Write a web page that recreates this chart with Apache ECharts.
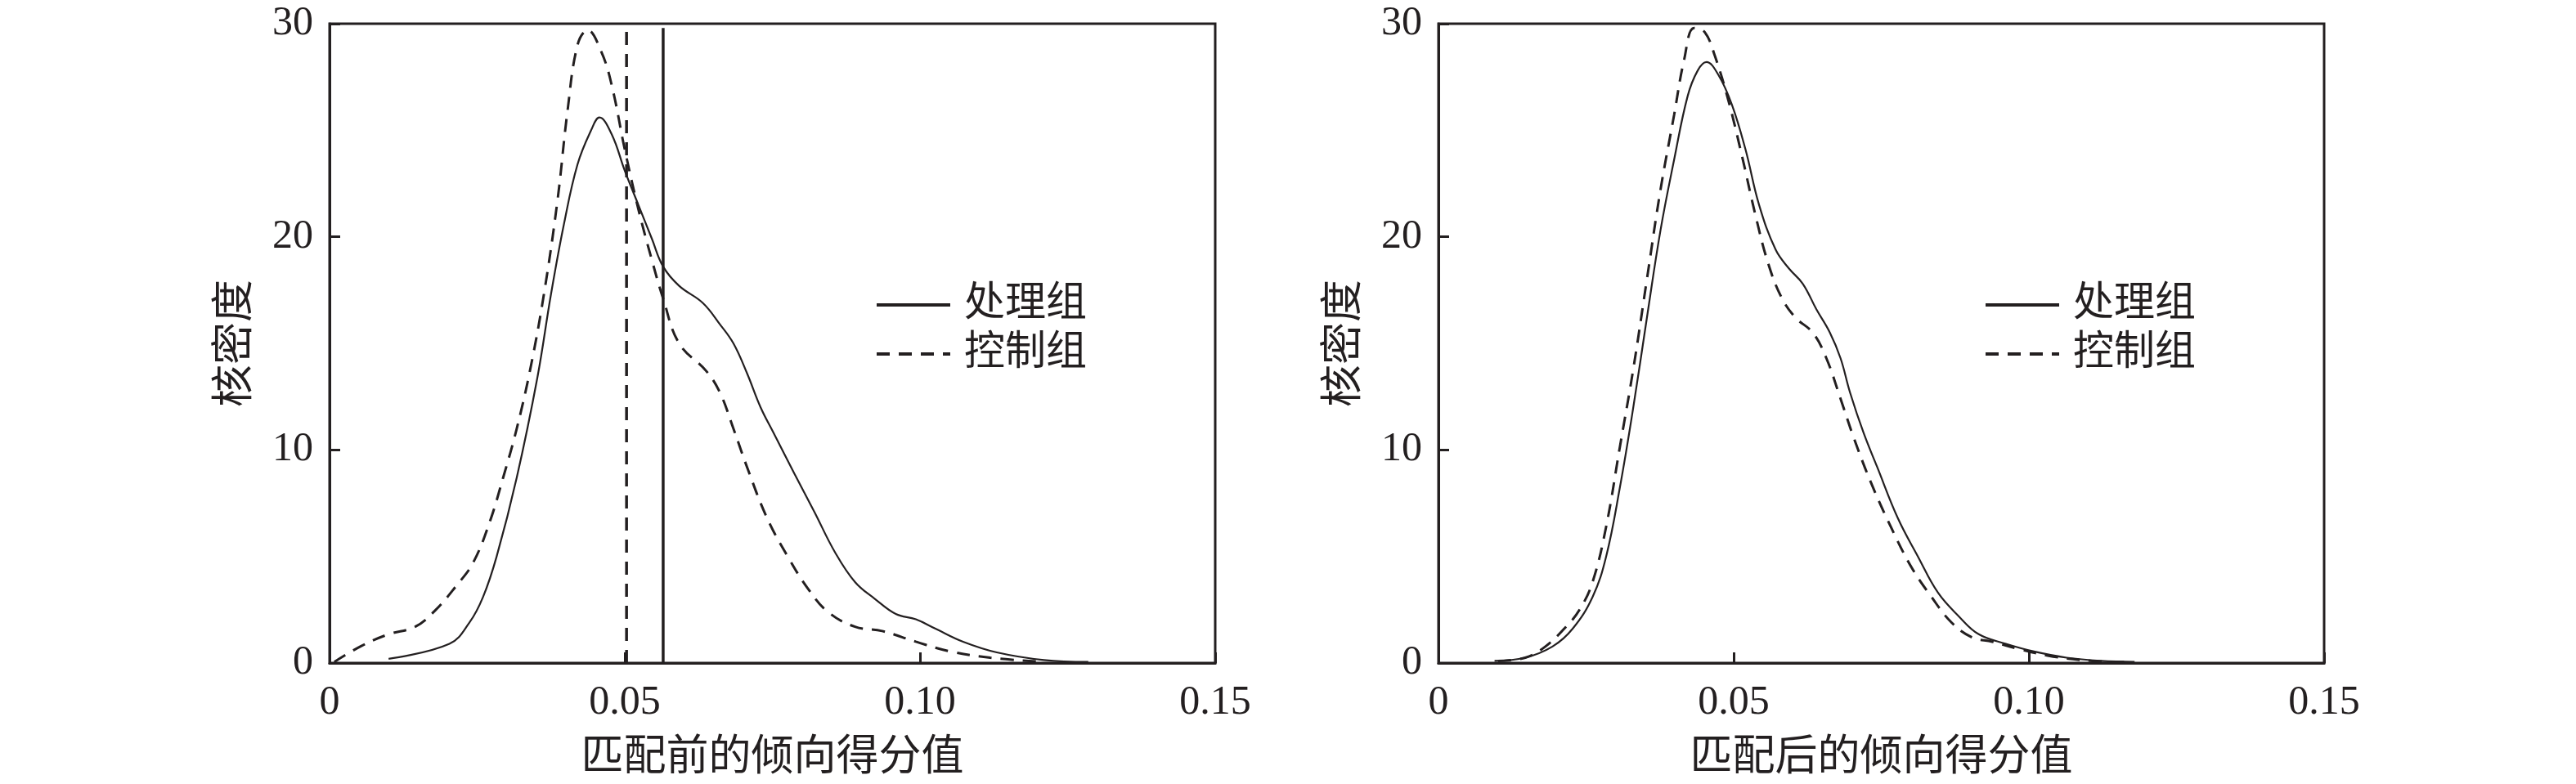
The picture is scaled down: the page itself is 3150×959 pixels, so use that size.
<!DOCTYPE html>
<html>
<head>
<meta charset="utf-8">
<script src="https://cdn.jsdelivr.net/npm/echarts@6/dist/echarts.min.js"></script>
<style>
  html, body { margin: 0; padding: 0; background: #fff; }
  #main { width: 3150px; height: 959px; }
</style>
</head>
<body>
<div id="main"></div>
<script>
// 坐标轴刻度
const xTicks = [0, 0.05, 0.10, 0.15];
const yTicks = [0, 10, 20, 30];
const groupNames = ['处理组', '控制组'];

// 匹配前：处理组
const beforeTreatedX = [0.010, 0.0203, 0.0237, 0.026, 0.0283, 0.0317, 0.0352, 0.0375, 0.0397, 0.042, 0.0443, 0.0457, 0.0478, 0.050, 0.0523, 0.0546, 0.0565, 0.0592, 0.0632, 0.0661, 0.0684, 0.0707, 0.073, 0.0752, 0.0787, 0.0821, 0.0856, 0.089, 0.0924, 0.0959, 0.0993, 0.1027, 0.1073, 0.113, 0.121, 0.1285];
const beforeTreatedY = [0.2, 0.9, 1.9, 3.1, 5.0, 8.7, 13.4, 17.3, 20.6, 23.4, 25.0, 25.6, 24.8, 23.1, 21.5, 19.9, 18.6, 17.7, 16.9, 15.9, 15.0, 13.6, 12.0, 10.8, 8.9, 7.1, 5.2, 3.8, 3.0, 2.3, 2.05, 1.6, 1.0, 0.5, 0.14, 0.05];

// 匹配前：控制组
const beforeControlX = [0.0008, 0.0054, 0.010, 0.0145, 0.018, 0.0214, 0.0243, 0.0271, 0.0294, 0.0317, 0.034, 0.0363, 0.0386, 0.0403, 0.042, 0.0437, 0.046, 0.0478, 0.050, 0.0523, 0.0546, 0.0565, 0.0592, 0.0638, 0.0661, 0.0684, 0.0707, 0.0741, 0.0776, 0.081, 0.0844, 0.089, 0.0936, 0.0993, 0.105, 0.1119, 0.120];
const beforeControlY = [0.05, 0.8, 1.35, 1.7, 2.5, 3.6, 4.7, 6.6, 8.7, 11.0, 13.8, 17.3, 21.7, 25.9, 29.0, 29.7, 28.7, 27.1, 24.1, 21.3, 18.9, 17.1, 15.0, 13.7, 12.7, 11.0, 9.2, 6.8, 5.0, 3.5, 2.4, 1.7, 1.5, 1.0, 0.55, 0.25, 0.07];

// 匹配前的均值竖线（处理组、控制组）
const beforeMeanX = [0.0565, 0.0503];
const meanLineY = [0, 29.8];

// 匹配后：处理组
const afterTreatedX = [0.0095, 0.0147, 0.0193, 0.0227, 0.0261, 0.0284, 0.0307, 0.033, 0.0353, 0.0376, 0.0399, 0.0422, 0.0439, 0.0454, 0.0474, 0.0497, 0.052, 0.0543, 0.0571, 0.0594, 0.0617, 0.064, 0.0663, 0.0681, 0.0697, 0.072, 0.0743, 0.0778, 0.0812, 0.0846, 0.0881, 0.0915, 0.0961, 0.1007, 0.1064, 0.1122, 0.1179];
const afterTreatedY = [0.1, 0.25, 0.77, 1.6, 3.1, 5.0, 8.2, 12.0, 16.2, 20.3, 23.6, 26.6, 27.8, 28.2, 27.6, 26.2, 24.1, 21.5, 19.4, 18.5, 17.8, 16.6, 15.5, 14.3, 12.7, 10.8, 9.2, 6.8, 5.0, 3.3, 2.2, 1.35, 0.9, 0.55, 0.25, 0.1, 0.05];

// 匹配后：控制组
const afterControlX = [0.0101, 0.0147, 0.0181, 0.0216, 0.0239, 0.0261, 0.0284, 0.0307, 0.033, 0.0353, 0.0376, 0.0399, 0.0416, 0.0433, 0.0451, 0.0468, 0.0491, 0.0514, 0.0537, 0.0559, 0.0582, 0.0605, 0.0634, 0.0657, 0.0681, 0.0703, 0.0732, 0.0766, 0.0801, 0.0835, 0.0869, 0.0904, 0.0938, 0.0984, 0.1041, 0.1107, 0.1165];
const afterControlY = [0.1, 0.25, 0.77, 1.7, 2.5, 3.8, 6.4, 10.1, 13.8, 18.0, 22.2, 25.7, 28.3, 29.8, 29.6, 28.5, 26.4, 23.8, 21.0, 18.7, 17.1, 16.2, 15.5, 14.3, 12.4, 10.6, 8.5, 6.4, 4.5, 3.1, 1.9, 1.2, 1.0, 0.65, 0.3, 0.1, 0.05];

const ink = '#231f20';
const fontFamily = "'Liberation Serif', 'Noto Sans CJK SC', serif";
const solidW = 2.2;
const dashW = 3;
const dashType = [16, 11];

const pairs = (xs, ys) => xs.map((x, i) => [x, ys[i]]);

const myChart = echarts.init(document.getElementById('main'));

function makeX(idx, name) {
  return {
    gridIndex: idx,
    type: 'value',
    min: xTicks[0],
    max: xTicks[xTicks.length - 1],
    interval: xTicks[1] - xTicks[0],
    name: name,
    nameLocation: 'middle',
    nameGap: 91,
    nameTextStyle: { fontSize: 52, color: ink, fontFamily: fontFamily },
    axisLine: { show: true, lineStyle: { color: ink, width: 3 } },
    axisTick: { show: true, inside: true, length: 13, lineStyle: { color: ink, width: 3 } },
    axisLabel: {
      margin: 24, fontSize: 50, color: ink, fontFamily: fontFamily,
      formatter: v => (v === 0 ? '0' : v.toFixed(2))
    },
    splitLine: { show: false }
  };
}

function makeY(idx) {
  return {
    gridIndex: idx,
    type: 'value',
    min: yTicks[0],
    max: yTicks[yTicks.length - 1],
    interval: yTicks[1] - yTicks[0],
    name: '核密度',
    nameLocation: 'middle',
    nameRotate: 90,
    nameGap: 88,
    nameTextStyle: { fontSize: 52, color: ink, fontFamily: fontFamily },
    axisLine: { show: true, lineStyle: { color: ink, width: 3 } },
    axisTick: { show: true, inside: true, length: 13, lineStyle: { color: ink, width: 3 } },
    axisLabel: { margin: 20, fontSize: 50, color: ink, fontFamily: fontFamily },
    splitLine: { show: false }
  };
}

function curve(name, idx, data, dashed) {
  return {
    name: name,
    type: 'line',
    xAxisIndex: idx,
    yAxisIndex: idx,
    data: data,
    smooth: 0.4,
    symbol: 'none',
    lineStyle: { color: ink, width: dashed ? dashW : solidW, type: dashed ? dashType : 'solid' },
    itemStyle: { color: ink },
    silent: true
  };
}

function meanLine(idx, x, dashed) {
  return {
    type: 'line',
    xAxisIndex: idx,
    yAxisIndex: idx,
    data: meanLineY.map(y => [x, y]),
    symbol: 'none',
    lineStyle: { color: ink, width: 3.5, type: dashed ? dashType : 'solid' },
    silent: true
  };
}

function makeLegend(left) {
  return {
    data: groupNames,
    orient: 'vertical',
    left: left,
    top: 343,
    itemWidth: 90,
    itemHeight: 50,
    itemGap: 10,
    selectedMode: false,
    // 只要线段，不要圆点
    itemStyle: { color: 'rgba(0,0,0,0)', borderWidth: 0, opacity: 0 },
    lineStyle: { width: 4 },
    textStyle: { fontSize: 50, color: ink, fontFamily: fontFamily, padding: [0, 0, 0, 12] }
  };
}

let option = {
  animation: false,
  backgroundColor: '#fff',
  grid: [
    { left: 403, right: 1664, top: 29, bottom: 144, show: true, borderColor: ink, borderWidth: 3 },
    { left: 1759, right: 308, top: 29, bottom: 144, show: true, borderColor: ink, borderWidth: 3 }
  ],
  legend: [makeLegend(1065), makeLegend(2421)],
  xAxis: [makeX(0, '匹配前的倾向得分值'), makeX(1, '匹配后的倾向得分值')],
  yAxis: [makeY(0), makeY(1)],
  series: [
    curve(groupNames[0], 0, pairs(beforeTreatedX, beforeTreatedY), false),
    curve(groupNames[1], 0, pairs(beforeControlX, beforeControlY), true),
    meanLine(0, beforeMeanX[0], false),
    meanLine(0, beforeMeanX[1], true),
    curve(groupNames[0], 1, pairs(afterTreatedX, afterTreatedY), false),
    curve(groupNames[1], 1, pairs(afterControlX, afterControlY), true)
  ]
};

myChart.setOption(option);
</script>
</body>
</html>
